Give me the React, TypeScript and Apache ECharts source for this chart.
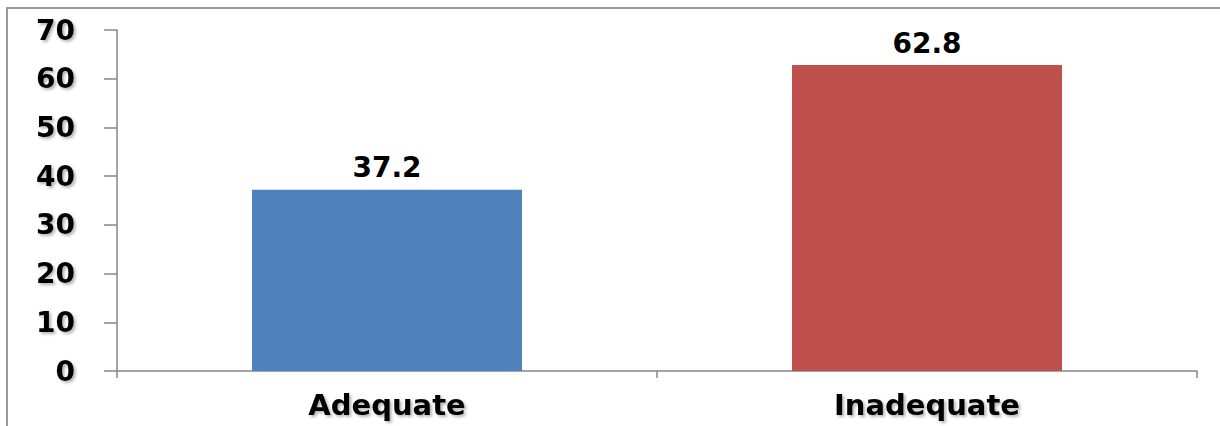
import React, { useEffect, useRef } from "react";
import * as echarts from "echarts";

const categories = ["Adequate", "Inadequate"];
const values = [37.2, 62.8];
const barColors = ["#4F81BD", "#C0504D"];
const yMin = 0;
const yMax = 70;
const yInterval = 10;

const shadow = {
  textShadowColor: "rgba(0,0,0,0.3)",
  textShadowBlur: 3,
  textShadowOffsetX: 2,
  textShadowOffsetY: 2,
};

export default function App() {
  const ref = useRef<HTMLDivElement>(null);
  useEffect(() => {
    if (!ref.current) return;
    const chart = echarts.init(ref.current, null, { renderer: "svg" });
    chart.setOption({
      animation: false,
      backgroundColor: "#ffffff",
      graphic: [
        {
          type: "rect",
          shape: { x: 7, y: 8, width: 1300, height: 500 },
          style: { fill: "none", stroke: "#9a9a9a", lineWidth: 2 },
          silent: true,
        },
      ],
      grid: { left: 117, right: 23, top: 30, bottom: 55 },
      xAxis: {
        type: "category",
        data: categories,
        axisLine: { lineStyle: { color: "#868686", width: 1.5 } },
        axisTick: { show: true, length: 7, alignWithLabel: false, lineStyle: { color: "#868686", width: 1.5 } },
        axisLabel: {
          color: "#000",
          fontFamily: "DejaVu Sans",
          fontWeight: "bold",
          fontSize: 29,
          margin: 19,
          ...shadow,
        },
      },
      yAxis: {
        type: "value",
        min: yMin,
        max: yMax,
        interval: yInterval,
        splitLine: { show: false },
        axisLine: { show: true, lineStyle: { color: "#868686", width: 1.5 } },
        axisTick: { show: true, length: 13, lineStyle: { color: "#868686", width: 1.5 } },
        axisLabel: {
          color: "#000",
          fontFamily: "DejaVu Sans",
          fontWeight: "bold",
          fontSize: 28,
          margin: 42,
          ...shadow,
        },
      },
      series: [
        {
          type: "bar",
          barWidth: "50%",
          data: values.map((v, i) => ({ value: v, itemStyle: { color: barColors[i] } })),
          label: {
            show: true,
            position: "top",
            distance: 8,
            color: "#000",
            fontFamily: "DejaVu Sans",
            fontWeight: "bold",
            fontSize: 28,
          },
        },
      ],
    });
    return () => chart.dispose();
  }, []);
  return (
    <div
      ref={ref}
      style={{ position: "fixed", left: 0, top: 0, width: 1220, height: 426 }}
    />
  );
}
